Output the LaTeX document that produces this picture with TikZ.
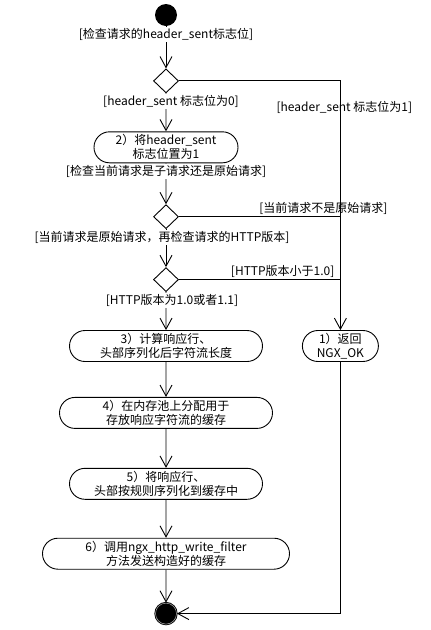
\documentclass[tikz,border=0pt]{standalone}
\usepackage{fontspec}
\setmainfont{Noto Sans CJK SC}
\usetikzlibrary{positioning,shapes.misc,shapes.geometric,arrows.meta}

\begin{document}
\begin{tikzpicture}[x=1pt, y=1pt, line width=0.9pt,
    font=\fontsize{12}{14}\selectfont,
    act/.style = {draw, rounded rectangle, minimum height=31pt, inner xsep=6pt, inner ysep=1pt, align=center},
    dec/.style = {draw, diamond, minimum width=25pt, minimum height=24pt, inner sep=0pt},
    guard/.style = {inner sep=1.5pt},
    flow/.style = {-{Straight Barb[length=11pt,width=12pt]}}]
    \useasboundingbox (0,0) rectangle (431,-630);

    \node[circle, fill, minimum size=22pt, inner sep=0pt] (start) at (166,-15) {};
    \node[dec] (d1) [below=42pt of start] {};
    \node[act, minimum width=156pt] (2) [below=38pt of d1] {2）将header\_sent\\标志位置为1};
    \node[dec] (d2) [below=41pt of 2] {};
    \node[dec] (d3) [below=38pt of d2] {};
    \node[act, minimum width=205pt] (3) [below=38pt of d3] {3）计算响应行、\\头部序列化后字符流长度};
    \node[act, minimum width=88pt] (1) [right=39pt of 3] {1）返回\\NGX\_OK};
    \node[act, minimum width=225pt] (4) [below=35pt of 3] {4）在内存池上分配用于\\存放响应字符流的缓存};
    \node[act, minimum width=205pt] (5) [below=39pt of 4] {5）将响应行、\\头部按规则序列化到缓存中};
    \node[act, minimum width=259pt] (6) [below=38pt of 5] {6）调用ngx\_http\_write\_filter\\方法发送构造好的缓存};
    \node[circle, draw, fill, double=gray!60, double distance=0.5pt, minimum size=21pt, inner sep=0pt] (stop) [below=33pt of 6] {};

    \draw[flow] (start) -- node[guard, fill=white, below, pos=0] {[检查请求的header\_sent标志位]} (d1);
    \draw[flow] (d1) -- node[guard, fill=white, below, pos=0, xshift=5pt] {[header\_sent 标志位为0]} (2);
    \draw[flow] (2) -- node[guard, fill=white, below, pos=0] {[检查当前请求是子请求还是原始请求]} (d2);
    \draw[flow] (d2) -- node[guard, fill=white, below, pos=0, xshift=-4pt] {[当前请求是原始请求，再检查请求的HTTP版本]} (d3);
    \draw[flow] (d3) -- node[guard, fill=white, below, pos=0, xshift=6pt] {[HTTP版本为1.0或者1.1]} (3);
    \draw[flow] (3) -- (4);
    \draw[flow] (4) -- (5);
    \draw[flow] (5) -- (6);
    \draw[flow] (6) -- (stop);

    \draw[flow] (d1.east) -| node[guard, below, pos=0.5, yshift=-18pt, xshift=4pt] {[header\_sent 标志位为1]} (1);
    \draw (d2.east) -- node[guard, above, pos=1, xshift=-17pt] {[当前请求不是原始请求]} (d2 -| 1);
    \draw (d3.east) -- node[guard, above left, pos=1, xshift=-4pt] {[HTTP版本小于1.0]} (d3 -| 1);
    \draw[flow] (1) |- (stop);
\end{tikzpicture}
\end{document}
